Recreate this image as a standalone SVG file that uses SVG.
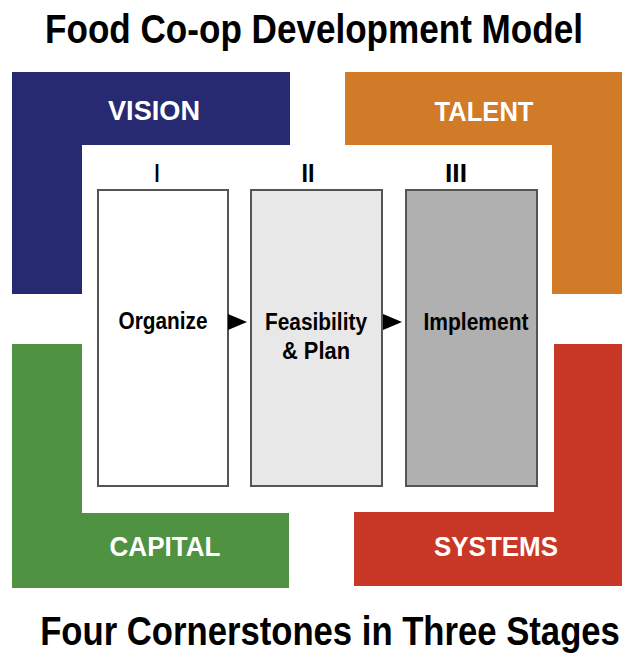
<svg xmlns="http://www.w3.org/2000/svg" width="623" height="654" viewBox="0 0 623 654">
<style>
.t{font-family:"Liberation Sans Narrow","Liberation Sans",Arial,sans-serif;font-weight:bold;text-anchor:middle}
.title{font-size:40px;fill:#000}
.corner{font-size:27px;fill:#fff}
.num{font-size:26px;fill:#000}
.lbl{font-size:23px;fill:#000}
.box{stroke:#555;stroke-width:2}
</style>
<rect width="623" height="654" fill="#fff"/>
<text class="t title" transform="translate(314,43) scale(0.82,1)" x="0" y="0" textLength="656" lengthAdjust="spacingAndGlyphs">Food Co-op Development Model</text>
<g id="vision">
<polygon points="12,72 290,72 290,145 82,145 82,294 12,294" fill="#272a70"/>
<text class="t corner" x="154" y="120" textLength="92" lengthAdjust="spacingAndGlyphs">VISION</text>
</g>
<g id="talent">
<polygon points="345,72 622,72 622,294 552,294 552,145 345,145" fill="#d17a28"/>
<text class="t corner" x="484" y="121" textLength="99" lengthAdjust="spacingAndGlyphs">TALENT</text>
</g>
<g id="capital">
<polygon points="12,344 82,344 82,513 289,513 289,588 12,588" fill="#4f9342"/>
<text class="t corner" x="165" y="556" textLength="111" lengthAdjust="spacingAndGlyphs">CAPITAL</text>
</g>
<g id="systems">
<polygon points="554,344 622,344 622,586 354,586 354,512 554,512" fill="#c93827"/>
<text class="t corner" x="496" y="556" textLength="124" lengthAdjust="spacingAndGlyphs">SYSTEMS</text>
</g>
<g id="stage1">
<text class="t num" x="157" y="182" textLength="5" lengthAdjust="spacingAndGlyphs">I</text>
<rect class="box" x="98" y="190" width="130" height="296" fill="#fff"/>
<text class="t lbl" x="163" y="329" textLength="89" lengthAdjust="spacingAndGlyphs">Organize</text>
</g>
<g id="stage2">
<text class="t num" x="308" y="182" textLength="13" lengthAdjust="spacingAndGlyphs">II</text>
<rect class="box" x="251" y="190" width="131" height="296" fill="#e8e8e8"/>
<text class="t lbl" x="316" y="330" textLength="102" lengthAdjust="spacingAndGlyphs">Feasibility</text>
<text class="t lbl" x="316" y="359" textLength="68" lengthAdjust="spacingAndGlyphs">&amp; Plan</text>
</g>
<g id="stage3">
<text class="t num" x="456" y="182" textLength="22" lengthAdjust="spacingAndGlyphs">III</text>
<rect class="box" x="406" y="190" width="131" height="296" fill="#b0b0b0"/>
<text class="t lbl" x="476" y="330" textLength="105" lengthAdjust="spacingAndGlyphs">Implement</text>
</g>
<g id="connectors">
<polygon points="228,314 247,322 228,330" fill="#000"/>
<polygon points="383,314 402,322 383,330" fill="#000"/>
</g>
<text class="t title" transform="translate(330,645) scale(0.82,1)" x="0" y="0" textLength="707" lengthAdjust="spacingAndGlyphs">Four Cornerstones in Three Stages</text>
</svg>
